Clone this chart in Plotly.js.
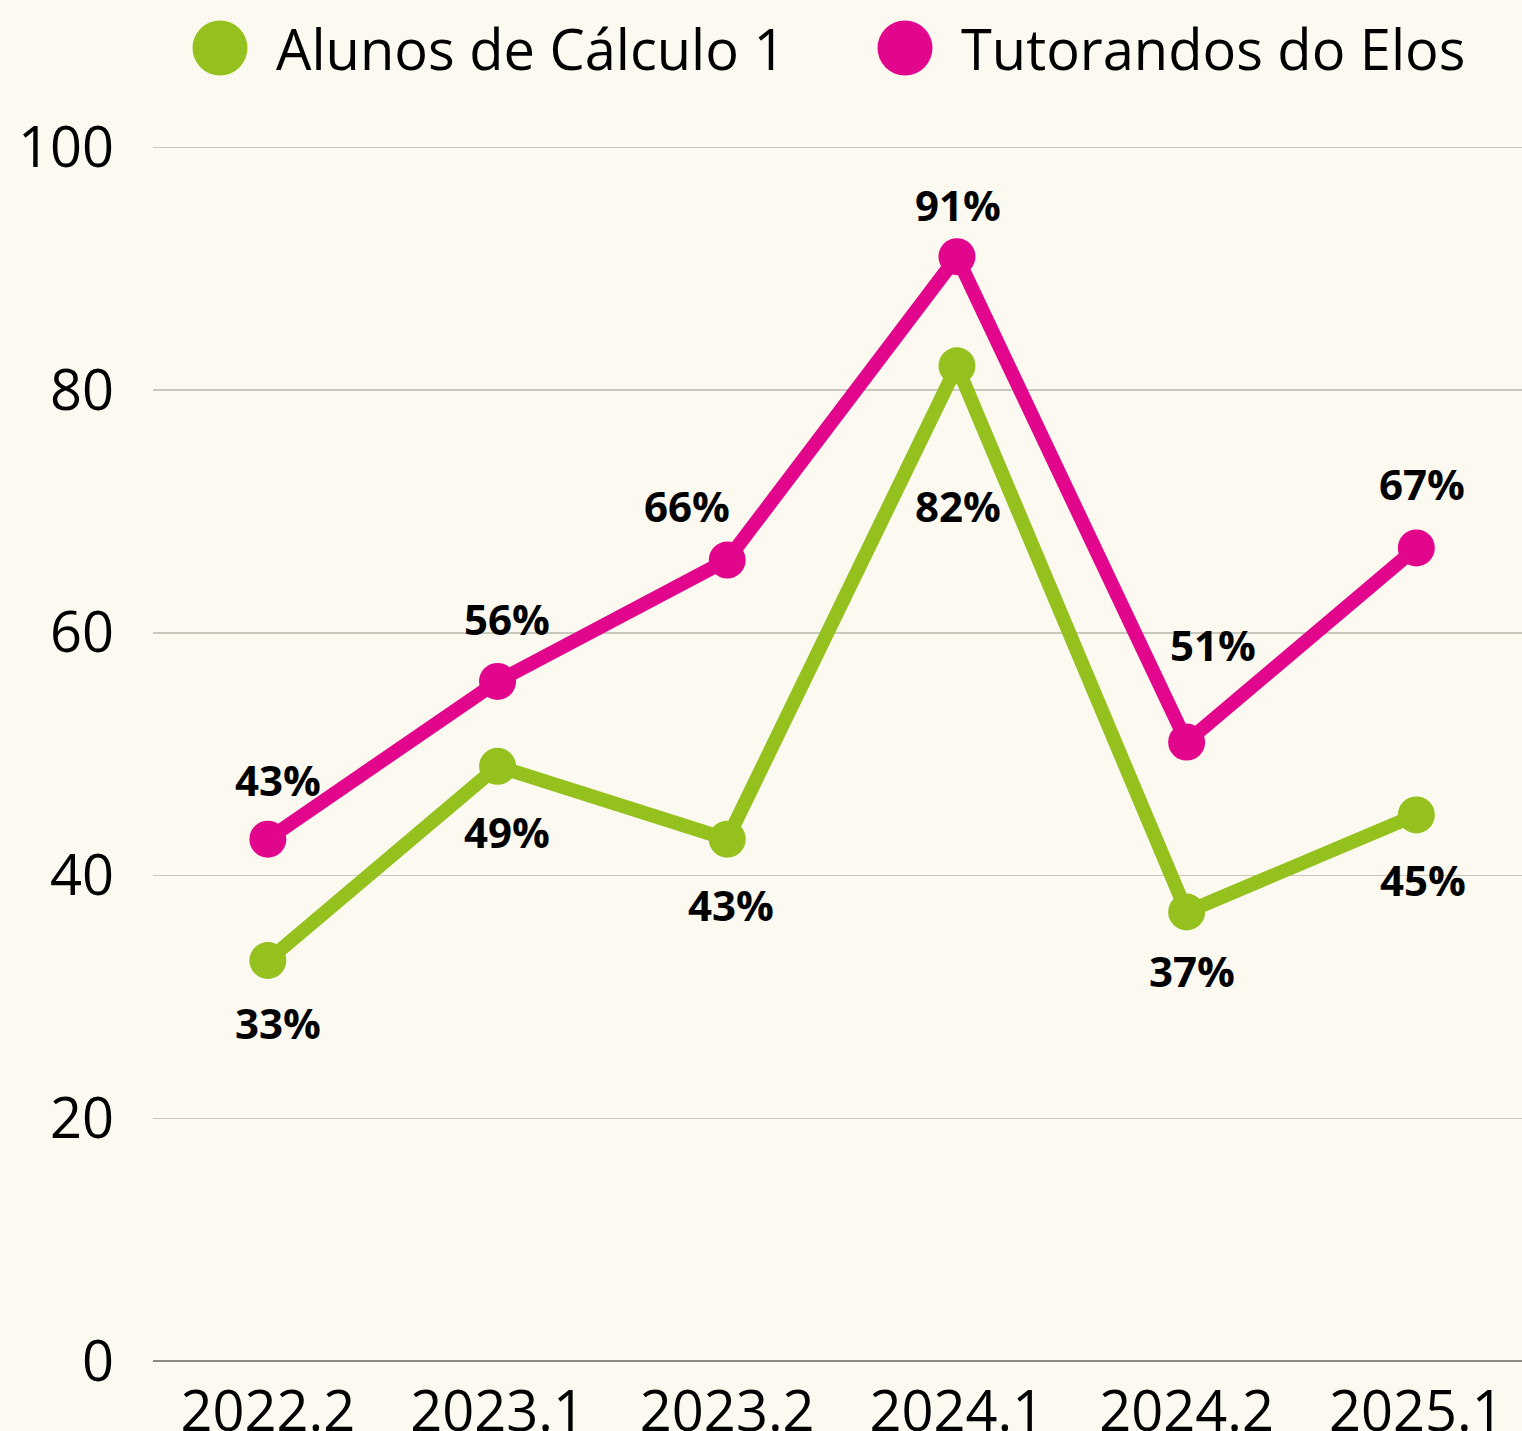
<!DOCTYPE html>
<html>
<head>
<meta charset="utf-8">
<script src="https://cdn.plot.ly/plotly-3.0.1.min.js"></script>
<style>html,body{margin:0;padding:0;background:#fcfaf0;}#chart{width:1522px;height:1431px;}</style>
</head>
<body>
<div id="chart"></div>
<script>
const categories = ["2022.2", "2023.1", "2023.2", "2024.1", "2024.2", "2025.1"];
const seriesNames = ["Alunos de Cálculo 1", "Tutorandos do Elos"];
const calculoValues = [33, 49, 43, 82, 37, 45];
const elosValues = [43, 56, 66, 91, 51, 67];
const yTickValues = [0, 20, 40, 60, 80, 100];

// label placement offsets in pixels (x right, y up)
const calculoLabelDx = [10, 9, 4, 1, 5, 7];
const calculoLabelDy = [-62, -65, -65, -140, -59, -65];
const elosLabelDx = [10, 9, -40, 1, 26, 6];
const elosLabelDy = [60, 63, 55, 52, 98, 64];

const GREEN = "#95c11f";
const PINK = "#e2068c";
const W = 1522, H = 1431;
const M = {l: 153, r: 0, t: 145, b: 70};
const FONT = "Open Sans, sans-serif";

function trace(name, vals, color) {
  return {
    type: "scatter", mode: "lines+markers", name: name,
    x: categories, y: vals,
    line: {color: color, width: 14},
    marker: {color: color, size: 37},
    showlegend: false, cliponaxis: false, hoverinfo: "skip"
  };
}

const data = [
  trace(seriesNames[0], calculoValues, GREEN),
  trace(seriesNames[1], elosValues, PINK)
];

const labelFont = {family: FONT, size: 42, weight: "bold", color: "#000"};
const annotations = [];
categories.forEach((c, i) => {
  annotations.push({x: i, y: calculoValues[i], xref: "x", yref: "y", text: calculoValues[i] + "%",
    showarrow: false, xshift: calculoLabelDx[i], yshift: calculoLabelDy[i], font: labelFont});
  annotations.push({x: i, y: elosValues[i], xref: "x", yref: "y", text: elosValues[i] + "%",
    showarrow: false, xshift: elosLabelDx[i], yshift: elosLabelDy[i], font: labelFont});
});

// custom legend
const pw = W - M.l - M.r, ph = H - M.t - M.b;
function px2x(px) { return (px - M.l) / pw; }
function py2y(py) { return 1 + (M.t - py) / ph; }
const legendItems = [
  {name: seriesNames[0], color: GREEN, cx: 220},
  {name: seriesNames[1], color: PINK, cx: 905}
];
const shapes = [];
legendItems.forEach(it => {
  shapes.push({type: "circle", xref: "paper", yref: "paper", xsizemode: "pixel", ysizemode: "pixel",
    xanchor: px2x(it.cx), yanchor: py2y(48), x0: -27.5, x1: 27.5, y0: -27.5, y1: 27.5,
    fillcolor: it.color, line: {width: 0}});
  annotations.push({xref: "paper", yref: "paper", x: px2x(it.cx + 54), y: py2y(48), xanchor: "left", yanchor: "middle",
    text: it.name, showarrow: false, font: {family: FONT, size: 56, color: "#000"}});
});

const layout = {
  width: W, height: H,
  margin: M,
  paper_bgcolor: "#fcfaf0", plot_bgcolor: "#fcfaf0",
  showlegend: false,
  font: {family: FONT, color: "#000"},
  xaxis: {
    type: "category", range: [-0.5, 5.46], showgrid: false, zeroline: false,
    showline: false, ticks: "", tickfont: {family: FONT, size: 56, color: "#000"},
    ticklabelstandoff: 13, fixedrange: true
  },
  yaxis: {
    range: [0, 100.2], tickvals: yTickValues, ticktext: yTickValues.map(String),
    showgrid: true, gridcolor: "#c9c8bd", gridwidth: 1.3,
    zeroline: true, zerolinecolor: "#8a8a84", zerolinewidth: 2.5,
    showline: false, ticks: "", tickfont: {family: FONT, size: 56, color: "#000"},
    ticklabelstandoff: 38, fixedrange: true
  },
  annotations: annotations,
  shapes: shapes
};

Plotly.newPlot("chart", data, layout, {displayModeBar: false, staticPlot: true});
</script>
</body>
</html>
